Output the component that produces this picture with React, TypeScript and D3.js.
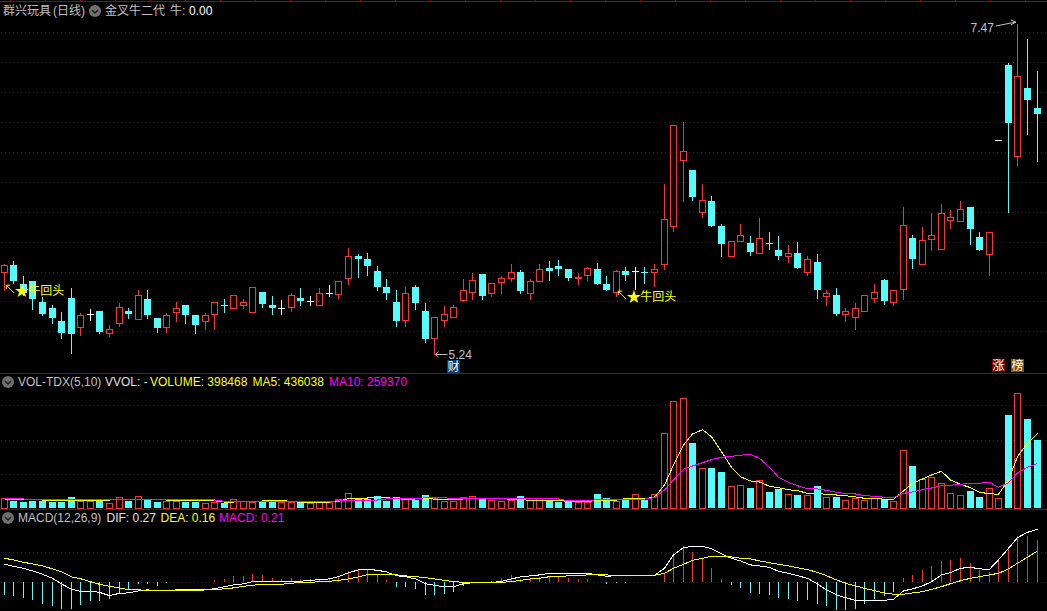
import React from "react";
import * as d3 from "d3";

// daily candles, oldest first
const opens = [
  5.79, 5.84, 5.71, 5.73, 5.59, 5.55, 5.46, 5.62, 5.42, 5.51,
  5.53, 5.38, 5.45, 5.53, 5.48, 5.61, 5.48, 5.42, 5.52, 5.57,
  5.50, 5.46, 5.51, 5.57, 5.55, 5.57, 5.52, 5.66, 5.57, 5.55,
  5.56, 5.62, 5.60, 5.57, 5.65, 5.64, 5.75, 5.90, 5.88, 5.80,
  5.69, 5.59, 5.47, 5.69, 5.53, 5.35, 5.47, 5.49, 5.60, 5.66,
  5.78, 5.65, 5.72, 5.75, 5.79, 5.65, 5.73, 5.82, 5.83, 5.81,
  5.75, 5.77, 5.81, 5.71, 5.66, 5.80, 5.80, 5.79, 5.79, 5.85,
  6.10, 6.55, 6.48, 6.20, 6.27, 6.10, 5.90, 6.00, 5.99, 5.92,
  5.99, 5.94, 5.90, 5.92, 5.79, 5.86, 5.63, 5.64, 5.51, 5.49,
  5.53, 5.62, 5.74, 5.59, 5.68, 6.02, 5.85, 6.01, 5.95, 6.14,
  6.14, 6.23, 6.03, 5.91, 6.68, 7.19, 6.57, 7.03, 6.90,
];
const closes = [
  5.84, 5.73, 5.65, 5.61, 5.51, 5.48, 5.38, 5.38, 5.50, 5.51,
  5.39, 5.41, 5.56, 5.51, 5.64, 5.50, 5.41, 5.50, 5.55, 5.50,
  5.43, 5.50, 5.59, 5.56, 5.64, 5.59, 5.69, 5.58, 5.55, 5.55,
  5.64, 5.60, 5.60, 5.65, 5.65, 5.73, 5.90, 5.88, 5.83, 5.69,
  5.65, 5.46, 5.65, 5.58, 5.34, 5.49, 5.51, 5.56, 5.67, 5.74,
  5.63, 5.72, 5.75, 5.79, 5.66, 5.73, 5.81, 5.80, 5.81, 5.75,
  5.76, 5.82, 5.71, 5.67, 5.80, 5.77, 5.80, 5.78, 5.81, 6.15,
  6.78, 6.61, 6.30, 6.28, 6.10, 5.98, 6.00, 6.04, 5.93, 6.02,
  5.98, 5.90, 5.92, 5.82, 5.88, 5.67, 5.65, 5.51, 5.53, 5.55,
  5.64, 5.66, 5.60, 5.67, 6.11, 5.88, 6.01, 6.04, 6.19, 6.16,
  6.22, 6.08, 5.94, 6.06, 6.68, 6.80, 7.11, 6.95, 6.86,
];
const highs = [
  5.85, 5.87, 5.77, 5.73, 5.63, 5.58, 5.53, 5.69, 5.52, 5.55,
  5.53, 5.44, 5.59, 5.56, 5.68, 5.68, 5.49, 5.52, 5.60, 5.57,
  5.50, 5.52, 5.59, 5.62, 5.64, 5.62, 5.69, 5.66, 5.64, 5.61,
  5.66, 5.69, 5.64, 5.69, 5.71, 5.73, 5.96, 5.92, 5.93, 5.84,
  5.75, 5.68, 5.70, 5.71, 5.59, 5.49, 5.57, 5.58, 5.75, 5.79,
  5.78, 5.72, 5.77, 5.85, 5.81, 5.75, 5.85, 5.87, 5.88, 5.82,
  5.79, 5.83, 5.86, 5.77, 5.81, 5.83, 5.83, 5.83, 5.85, 6.39,
  6.78, 6.81, 6.48, 6.39, 6.31, 6.12, 6.00, 6.12, 6.04, 6.16,
  6.07, 6.04, 5.98, 6.00, 5.91, 5.92, 5.68, 5.69, 5.56, 5.59,
  5.64, 5.72, 5.75, 5.67, 6.24, 6.05, 6.10, 6.20, 6.26, 6.22,
  6.28, 6.23, 6.07, 6.06, 6.68, 7.21, 7.47, 7.37, 7.15,
];
const lows = [
  5.67, 5.72, 5.64, 5.54, 5.50, 5.45, 5.35, 5.25, 5.37, 5.47,
  5.38, 5.36, 5.43, 5.48, 5.48, 5.48, 5.39, 5.39, 5.46, 5.45,
  5.38, 5.41, 5.41, 5.52, 5.55, 5.55, 5.52, 5.56, 5.51, 5.51,
  5.53, 5.57, 5.57, 5.57, 5.63, 5.62, 5.71, 5.76, 5.77, 5.67,
  5.61, 5.43, 5.43, 5.54, 5.32, 5.24, 5.43, 5.49, 5.60, 5.61,
  5.61, 5.63, 5.65, 5.73, 5.65, 5.61, 5.73, 5.74, 5.77, 5.74,
  5.71, 5.74, 5.71, 5.67, 5.63, 5.74, 5.68, 5.72, 5.70, 5.81,
  6.07, 6.27, 6.28, 6.16, 6.10, 5.90, 5.90, 6.00, 5.91, 5.92,
  5.95, 5.88, 5.86, 5.82, 5.77, 5.62, 5.57, 5.50, 5.46, 5.41,
  5.53, 5.59, 5.58, 5.57, 5.61, 5.82, 5.85, 5.94, 5.95, 6.09,
  6.14, 5.98, 5.94, 5.77, 6.68, 6.20, 6.51, 6.72, 6.54,
];

const volumes = [
  56700, 40900, 35000, 40900, 40900, 35000, 35000, 62500, 42600, 42600,
  40900, 31000, 62500, 40900, 68400, 46700, 35000, 39100, 39100, 36800,
  36800, 31000, 36800, 27500, 50800, 40900, 35000, 36800, 36800, 33300,
  36800, 35000, 27500, 42600, 33300, 50800, 85900, 60200, 54300, 70100,
  40900, 62500, 54300, 46700, 75900, 58400, 39100, 39100, 62500, 68400,
  50800, 45000, 39100, 45000, 70100, 45000, 56700, 46700, 35000, 42600,
  33300, 36800, 81800, 58400, 42600, 50800, 81800, 46700, 80000, 436400,
  623300, 640900, 379700, 231900, 233700, 210300, 126800, 132600, 116800, 161800,
  93500, 111000, 80000, 75900, 74200, 128500, 62500, 64300, 45000, 58400,
  45000, 56700, 50800, 39100, 337100, 245400, 169400, 179300, 144300, 85900,
  74200, 99300, 64300, 115100, 56700, 543300, 670100, 519900, 398468,
];
const ma5 = [
  49700, 49700, 48500, 50800, 46700, 40900, 40900, 45000, 45000, 45000,
  46700, 46700, 50800, 50800, 50800, 49700, 48500, 46700, 46700, 45600,
  42600, 42100, 42100, 35000, 35000, 36200, 38000, 40900, 43800, 43800,
  38000, 35000, 32100, 33900, 35000, 38000, 55500, 55500, 58400, 62500,
  60200, 54300, 50800, 52600, 56700, 51400, 48500, 48500, 52600, 52600,
  52600, 53700, 54300, 50800, 48500, 45000, 46700, 46700, 45000, 36800,
  36800, 36800, 45000, 45000, 46700, 54300, 58400, 54300, 62500, 134400,
  251200, 368000, 432300, 457400, 416500, 328900, 237800, 182900, 157700, 151900,
  126800, 118600, 106900, 101100, 85900, 87600, 77700, 75900, 71900, 64300,
  56700, 56700, 50800, 50800, 99300, 144300, 169400, 192800, 214400, 163600,
  138500, 118600, 91700, 83500, 80000, 163600, 299700, 378000, 436038,
];
const ma10 = [
  52600, 52600, 52600, 48500, 47500, 47500, 47500, 47500, 47500, 47500,
  47500, 47500, 47500, 50800, 50800, 50800, 50800, 49000, 48000, 48000,
  48000, 48000, 46700, 39100, 39100, 39100, 39100, 39100, 39100, 39100,
  39100, 39100, 39100, 39100, 39100, 42000, 46700, 46700, 46700, 46700,
  52600, 52600, 52600, 52600, 60200, 60200, 60200, 54000, 53000, 52600,
  52600, 52600, 52600, 52600, 52600, 52600, 52600, 52600, 52600, 42600,
  42600, 42600, 48500, 48500, 48500, 48500, 50000, 52000, 60200, 105200,
  163600, 226100, 245400, 264600, 282200, 296200, 302000, 307900, 313700, 290300,
  237800, 179300, 150100, 130300, 112800, 111000, 103400, 91700, 83500, 81800,
  71900, 68400, 62500, 60200, 85900, 93500, 106900, 116800, 130300, 132600,
  138500, 144300, 144300, 150100, 120900, 147800, 204500, 237800, 259370,
];

const dif = [
  0.09, 0.08, 0.07, 0.057, 0.04, 0.02, -0.008, -0.035, -0.045, -0.045,
  -0.05, -0.067, -0.055, -0.053, -0.043, -0.038, -0.043, -0.043, -0.038, -0.037,
  -0.038, -0.038, -0.032, -0.022, -0.013, -0.008, 0.003, 0.003, 0.002, 0.002,
  0.005, 0.005, 0.01, 0.013, 0.017, 0.028, 0.048, 0.062, 0.065, 0.06,
  0.052, 0.033, 0.028, 0.017, -0.007, -0.015, -0.023, -0.023, -0.007, -0.002,
  -0.002, -0.002, 0.005, 0.017, 0.027, 0.032, 0.037, 0.045, 0.045, 0.045,
  0.045, 0.045, 0.037, 0.03, 0.033, 0.033, 0.033, 0.033, 0.035, 0.07,
  0.137, 0.173, 0.18, 0.18, 0.168, 0.142, 0.12, 0.107, 0.087, 0.082,
  0.075, 0.055, 0.045, 0.033, 0.02, -0.008, -0.038, -0.063, -0.077, -0.09,
  -0.09, -0.09, -0.09, -0.085, -0.043, -0.033, -0.018, 0.003, 0.037, 0.048,
  0.07, 0.075, 0.067, 0.065, 0.112, 0.17, 0.223, 0.25, 0.265,
];
const dea = [
  0.12, 0.112, 0.1, 0.092, 0.082, 0.067, 0.053, 0.027, 0.018, 0.003,
  -0.01, -0.02, -0.028, -0.037, -0.038, -0.04, -0.042, -0.042, -0.042, -0.042,
  -0.042, -0.038, -0.035, -0.033, -0.028, -0.02, -0.015, -0.01, -0.01, -0.01,
  -0.005, 0, 0, 0.003, 0.005, 0.01, 0.017, 0.027, 0.038, 0.04,
  0.04, 0.037, 0.032, 0.028, 0.023, 0.017, 0.01, 0.003, 0, 0,
  -0.002, -0.003, 0, 0.003, 0.01, 0.017, 0.02, 0.028, 0.03, 0.032,
  0.033, 0.037, 0.04, 0.037, 0.033, 0.033, 0.033, 0.033, 0.035, 0.045,
  0.07, 0.09, 0.11, 0.12, 0.13, 0.13, 0.127, 0.12, 0.117, 0.107,
  0.098, 0.09, 0.082, 0.073, 0.063, 0.05, 0.033, 0.012, -0.005, -0.018,
  -0.03, -0.042, -0.053, -0.06, -0.06, -0.053, -0.047, -0.035, -0.022, -0.007,
  0.008, 0.02, 0.028, 0.037, 0.045, 0.067, 0.095, 0.125, 0.157,
];
const macd = [
  -0.063, -0.067, -0.078, -0.088, -0.108, -0.118, -0.133, -0.133, -0.113, -0.093,
  -0.093, -0.083, -0.055, -0.038, -0.008, -0.008, -0.018, -0.003, 0, 0.002,
  0, 0, 0.012, 0.017, 0.032, 0.032, 0.042, 0.037, 0.022, 0.017,
  0.022, 0.017, 0.017, 0.017, 0.022, 0.032, 0.057, 0.067, 0.062, 0.037,
  0.012, -0.023, -0.023, -0.033, -0.063, -0.063, -0.058, -0.048, -0.02, -0.005,
  0, 0.007, 0.023, 0.037, 0.017, 0.02, 0.028, 0.032, 0.032, 0.022,
  0.017, 0.017, 0, -0.007, -0.002, -0.002, 0, 0, 0, 0.042,
  0.147, 0.182, 0.152, 0.122, 0.072, 0.017, -0.013, -0.028, -0.053, -0.058,
  -0.063, -0.078, -0.083, -0.093, -0.088, -0.108, -0.118, -0.138, -0.138, -0.133,
  -0.108, -0.083, -0.068, -0.048, 0.022, 0.037, 0.062, 0.082, 0.107, 0.112,
  0.122, 0.097, 0.062, 0.052, 0.117, 0.167, 0.232, 0.232, 0.212,
];

const signalIndexes = [0, 64];
const signalLabel = "牛回头";
const highIndex = 106;
const lowIndex = 45;

const WIDTH = 1047;
const HEIGHT = 611;
const RED = "#ff3232";
const CYAN = "#54fcfc";
const GRID = "#960000";
const FRAME = "#a80000";
const GRAY = "#c0c0c0";
const FONT = '"Liberation Sans", "Noto Sans CJK SC", sans-serif';

const x = d3.scaleLinear().domain([0, 108]).range([4.3, 1037]);
const yPrice = d3.scaleLinear().domain([5.24, 7.47]).range([354, 23]);
const yVol = d3.scaleLinear().domain([0, 600000]).range([508, 405.3]);
const yMacd = d3.scaleLinear().domain([0, 0.15]).range([582.3, 552.3]);

const px = (v: number) => Math.round(v) + 0.5;
const cx = (i: number) => Math.floor(x(i)) + 0.5;

const priceGrid = d3.range(11).map(k => 7.407 - k * 0.2014);
const volGrid = [200000, 400000, 600000];
const macdGrid = [0, 0.15];

const Grid = ({levels, scale}: {levels: number[]; scale: (v: number) => number}) => (
  <g stroke={GRID} strokeDasharray="1 3" shapeRendering="crispEdges">
    {levels.map(v => (
      <line key={v} x1={1} x2={WIDTH} y1={px(scale(v))} y2={px(scale(v))}/>
    ))}
  </g>
);

const Candle = ({i}: {i: number}) => {
  const o = opens[i], c = closes[i];
  const color = o === c ? "#ffffff" : c > o ? RED : CYAN;
  const top = yPrice(Math.max(o, c));
  const bottom = yPrice(Math.min(o, c));
  const h = Math.max(Math.round(bottom - top), 1);
  return (
    <g>
      <line x1={cx(i)} x2={cx(i)} y1={px(yPrice(highs[i]))} y2={px(yPrice(lows[i]))} stroke={color}/>
      {o === c && <line x1={cx(i) - 3.5} x2={cx(i) + 3.5} y1={px(top)} y2={px(top)} stroke={color}/>}
      {c > o && <rect x={cx(i) - 3} width={6} y={px(top)} height={h} fill="#000" stroke={color}/>}
      {c < o && <rect x={cx(i) - 3.5} width={7} y={Math.round(top)} height={h} fill={color}/>}
    </g>
  );
};

const VolBar = ({i}: {i: number}) => {
  const top = Math.round(yVol(volumes[i]));
  return closes[i] < opens[i]
    ? <rect x={cx(i) - 3.5} width={7} y={top} height={508 - top} fill={CYAN}/>
    : <rect x={cx(i) - 3} width={6} y={top + 0.5} height={508 - top} fill="#000" stroke={RED}/>;
};

const Chevron = ({cx: ox, cy}: {cx: number; cy: number}) => (
  <g>
    <circle cx={ox} cy={cy} r={6} fill="#707070"/>
    <path d={`M${ox - 3},${cy - 1}L${ox},${cy + 2}L${ox + 3},${cy - 1}`} fill="none" stroke="#1a1a1a" strokeWidth={1.4}/>
  </g>
);

const Label = ({x: lx, y, color, children}: {x: number; y: number; color: string; children: React.ReactNode}) => (
  <text x={lx} y={y} fill={color} fontSize={12} fontFamily={FONT}>{children}</text>
);

const Badge = ({x: bx, y, bg, text}: {x: number; y: number; bg: string; text: string}) => (
  <g>
    <rect x={bx} y={y} width={13} height={13} fill={bg}/>
    <text x={bx + 6.5} y={y + 11} textAnchor="middle" fill="#fff" fontSize={12} fontFamily={FONT}>{text}</text>
  </g>
);

const Signal = ({i}: {i: number}) => {
  const ox = x(i), oy = yPrice(lows[i]);
  return (
    <g>
      <path
        d={`M${ox + 2},${oy - 5}L${ox + 10},${oy + 3}M${ox + 2},${oy - 5}h4M${ox + 2},${oy - 5}v4`}
        fill="none" stroke="#ffff00"
      />
      <text x={ox + 17.5} y={oy + 6.5} textAnchor="middle" fill="#ffff00" fontSize={18} fontFamily='"DejaVu Sans"'>★</text>
      <text x={ox + 24} y={oy + 4.5} fill="#ffff00" fontSize={12} fontFamily={FONT}>{signalLabel}</text>
    </g>
  );
};

export default function App() {
  const indexes = d3.range(opens.length);
  const makeLine = (values: number[], scale: (v: number) => number) =>
    d3.line<number>().x(i => cx(i)).y(i => scale(values[i]))(indexes) as string;

  const hx = x(highIndex), hy = yPrice(highs[highIndex]);
  const lx = x(lowIndex), ly = yPrice(lows[lowIndex]);

  return (
    <svg
      width={WIDTH}
      height={HEIGHT}
      style={{position: "fixed", left: 0, top: 0, display: "block", background: "#000"}}
    >
      {/* frames */}
      <g stroke={FRAME} shapeRendering="crispEdges">
        <line x1={0} x2={WIDTH} y1={1.5} y2={1.5}/>
        <line x1={0} x2={WIDTH} y1={373.5} y2={373.5}/>
        <line x1={0} x2={WIDTH} y1={509.5} y2={509.5}/>
        {d3.range(10, WIDTH, 35).map(t => <line key={t} x1={t + 0.5} x2={t + 0.5} y1={0} y2={1}/>)}
      </g>

      <Grid levels={priceGrid} scale={yPrice}/>
      <Grid levels={volGrid} scale={yVol}/>
      <Grid levels={macdGrid} scale={yMacd}/>

      {/* candles */}
      <g shapeRendering="crispEdges">
        {indexes.map(i => <Candle key={i} i={i}/>)}
      </g>

      {/* volume */}
      <g shapeRendering="crispEdges">
        {indexes.map(i => <VolBar key={i} i={i}/>)}
        <path d={makeLine(ma5, yVol)} fill="none" stroke="#ffff00"/>
        <path d={makeLine(ma10, yVol)} fill="none" stroke="#ff00ff"/>
      </g>

      {/* macd */}
      <g shapeRendering="crispEdges">
        {indexes.filter(i => macd[i] !== 0).map(i => (
          <line
            key={i}
            x1={cx(i)}
            x2={cx(i)}
            y1={yMacd(0)}
            y2={yMacd(macd[i])}
            stroke={macd[i] > 0 ? RED : CYAN}
          />
        ))}
        <path d={makeLine(dif, yMacd)} fill="none" stroke="#ffffff"/>
        <path d={makeLine(dea, yMacd)} fill="none" stroke="#ffff00"/>
      </g>

      {/* titles */}
      <Label x={3} y={15} color={GRAY}>群兴玩具</Label>
      <Label x={53} y={15} color={GRAY}>(日线)</Label>
      <Chevron cx={95} cy={11}/>
      <Label x={105} y={15} color={GRAY}>金叉牛二代</Label>
      <Label x={170} y={15} color={GRAY}>牛:</Label>
      <Label x={189} y={15} color="#ffffff">0.00</Label>

      <Chevron cx={8} cy={382}/>
      <Label x={18} y={386} color={GRAY}>VOL-TDX(5,10)</Label>
      <Label x={105} y={386} color="#e0e0e0">VVOL: -</Label>
      <Label x={150} y={386} color="#ffff00">VOLUME: 398468</Label>
      <Label x={252.5} y={386} color="#ffff00">MA5: 436038</Label>
      <Label x={329} y={386} color="#ff00ff">MA10: 259370</Label>

      <Chevron cx={8} cy={518}/>
      <Label x={18} y={522} color={GRAY}>MACD(12,26,9)</Label>
      <Label x={106.5} y={522} color="#e0e0e0">DIF: 0.27</Label>
      <Label x={160.5} y={522} color="#ffff00">DEA: 0.16</Label>
      <Label x={219} y={522} color="#ff00ff">MACD: 0.21</Label>

      {/* annotations */}
      {signalIndexes.map(i => <Signal key={i} i={i}/>)}

      <text x={hx - 24} y={hy + 9} textAnchor="end" fill={GRAY} fontSize={12} fontFamily={FONT}>7.47</text>
      <path
        d={`M${hx - 22},${hy + 3}L${hx - 2},${hy - 1}M${hx - 2},${hy - 1}l-5,-2M${hx - 2},${hy - 1}l-5,3`}
        fill="none" stroke={GRAY}
      />
      <path d={`M${lx + 1},${ly + 0.5}H${lx + 13}M${lx + 1},${ly + 0.5}l3,-3M${lx + 1},${ly + 0.5}l3,3`} fill="none" stroke={GRAY}/>
      <text x={lx + 14} y={ly + 5} fill={GRAY} fontSize={12} fontFamily={FONT}>{lows[lowIndex].toFixed(2)}</text>

      <Badge x={447} y={360} bg="#0a3a6e" text="财"/>
      <Badge x={992} y={359} bg="#800000" text="涨"/>
      <Badge x={1011} y={359} bg="#80500f" text="榜"/>
    </svg>
  );
}
